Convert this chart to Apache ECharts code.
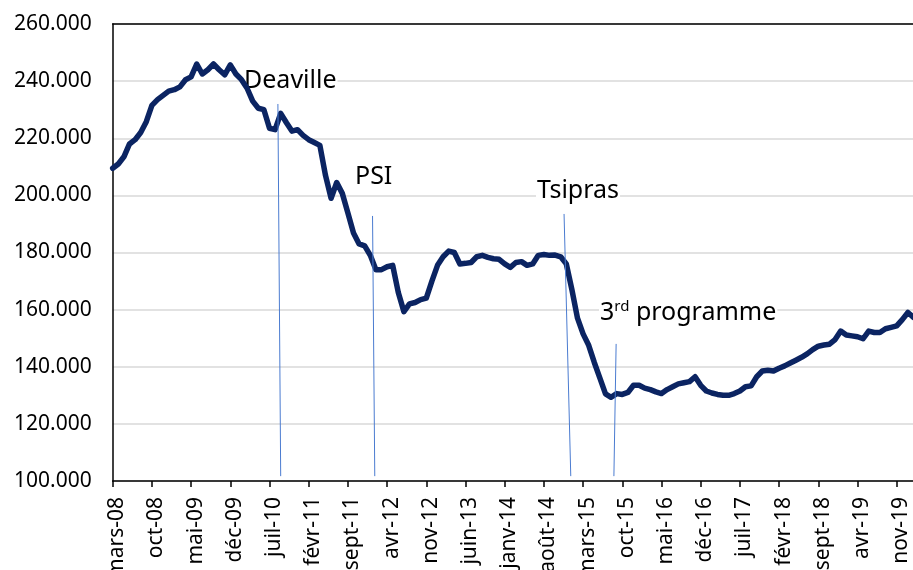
<!DOCTYPE html>
<html>
<head>
<meta charset="utf-8">
<title>Chart</title>
<script src="https://cdn.jsdelivr.net/npm/echarts@6/dist/echarts.min.js"></script>
<style>
  html, body { margin: 0; padding: 0; background: #fff; }
  #main { width: 913px; height: 570px; }
</style>
</head>
<body>
<div id="main"></div>
<script>
  // mois, de mars-08 à févr-20
  var monthNames = ['janv', 'févr', 'mars', 'avr', 'mai', 'juin', 'juil', 'août', 'sept', 'oct', 'nov', 'déc']
  var startYear = 2008
  var startMonth = 2
  var nbMonths = 144

  var categories = []
  for (var k = 0; k < nbMonths; k++) {
    var m = (startMonth + k) % 12
    var y = startYear + Math.floor((startMonth + k) / 12)
    categories.push(monthNames[m] + '-' + String(y).slice(2))
  }

  var values = [
    209.5, 211.0, 213.5, 218.0, 219.5, 222.0, 225.8, 231.5, 233.5, 235.0, 236.5, 237.0,
    238.0, 240.5, 241.5, 246.0, 242.5, 244.0, 246.0, 244.0, 242.2, 245.7, 242.5, 240.5,
    237.5, 233.0, 230.5, 230.0, 223.5, 223.0, 228.7, 225.5, 222.5, 223.0, 221.0, 219.5,
    218.5, 217.5, 207.0, 199.0, 204.5, 200.7, 193.8, 186.8, 183.0, 182.3, 179.0, 174.0,
    174.0, 175.0, 175.5, 166.0, 159.3, 162.0, 162.5, 163.5, 164.0, 170.0, 175.5, 178.5,
    180.5, 180.0, 176.0, 176.2, 176.5, 178.5, 179.0, 178.3, 177.8, 177.6, 176.0, 174.8,
    176.5, 176.8, 175.5, 176.0, 179.0, 179.3, 179.0, 179.1, 178.5, 176.0, 167.0, 157.0,
    151.5, 147.5, 141.5, 136.0, 130.5, 129.3, 130.6, 130.3, 131.0, 133.5, 133.5, 132.5,
    132.0, 131.2, 130.6, 132.0, 133.0, 134.0, 134.4, 134.8, 136.5, 133.5, 131.5, 130.8,
    130.3, 130.0, 130.0, 130.6, 131.5, 133.0, 133.3, 136.5, 138.5, 138.8, 138.5, 139.5,
    140.3, 141.3, 142.3, 143.3, 144.5, 146.0, 147.2, 147.6, 147.9, 149.5, 152.5, 151.1,
    150.8, 150.5, 149.8, 152.5, 152.0, 152.0, 153.3, 153.8, 154.3, 156.5, 159.0, 157.3
  ]

  // traits d'annotation : [haut, bas] en index de mois et en valeur
  var annoNames = ['Deaville', 'PSI', 'Tsipras', '3rd programme']
  var annoX = [[29.5, 30.0], [46.4, 46.8], [80.6, 81.8], [89.9, 89.5]]
  var annoY = [[232.0, 101.7], [192.8, 101.7], [193.5, 101.7], [148.0, 101.7]]

  var chart = echarts.init(document.getElementById('main'))

  var series = [{
    name: 'indice',
    type: 'line',
    data: values,
    showSymbol: false,
    symbol: 'none',
    lineStyle: { color: '#0b2462', width: 5.5, join: 'round', cap: 'round' },
    z: 3
  }]
  annoNames.forEach(function (n, i) {
    series.push({
      name: n,
      type: 'line',
      xAxisIndex: 1,
      symbol: 'none',
      data: [[annoX[i][0], annoY[i][0]], [annoX[i][1], annoY[i][1]]],
      lineStyle: { color: '#4a7bd0', width: 1 },
      z: 4
    })
  })

  var txtStyle = function (t) {
    return { text: t, fill: '#000', font: '25px "Noto Sans"', backgroundColor: '#fff', padding: [0, 1, 0, 1] }
  }

  chart.setOption({
    animation: false,
    grid: { left: 112.7, top: 24, width: 800.8, height: 457, outerBoundsMode: 'none', containLabel: false },
    xAxis: [{
      type: 'category',
      data: categories,
      boundaryGap: false,
      axisLine: { lineStyle: { color: '#000', width: 1.5 } },
      axisTick: { show: true, interval: 6, length: 6, lineStyle: { color: '#000', width: 1.5 } },
      axisLabel: {
        interval: 6,
        rotate: 90,
        margin: 16,
        color: '#000',
        fontFamily: 'Noto Sans',
        fontSize: 21,
        verticalAlign: 'top',
        lineHeight: 9
      },
      splitLine: { show: false }
    }, {
      type: 'value',
      position: 'top',
      min: 0,
      max: nbMonths - 1,
      axisLine: { show: true, onZero: false, lineStyle: { color: '#000', width: 1.5 } },
      axisTick: { show: false },
      axisLabel: { show: false },
      splitLine: { show: false }
    }],
    yAxis: {
      type: 'value',
      min: 100,
      max: 260,
      interval: 20,
      axisLine: { show: true, lineStyle: { color: '#000', width: 1.5 } },
      axisTick: { show: false },
      axisLabel: {
        margin: 21,
        color: '#000',
        fontFamily: 'Noto Sans',
        fontSize: 21,
        formatter: function (v) { return v.toFixed(3) }
      },
      splitLine: { show: true, lineStyle: { color: '#d9d9d9', width: 1.5 } }
    },
    series: series,
    graphic: [
      { type: 'text', z: 1, left: 243, top: 68, style: txtStyle('Deaville') },
      { type: 'text', z: 1, left: 354, top: 164, style: txtStyle('PSI') },
      { type: 'text', z: 1, left: 536, top: 178, style: txtStyle('Tsipras') },
      {
        type: 'text', z: 1, left: 599, top: 297,
        style: {
          text: '{a|3}{s|rd}{a| programme}',
          fill: '#000',
          backgroundColor: '#fff',
          padding: [0, 1, 0, 1],
          rich: {
            a: { fontFamily: 'Noto Sans', fontSize: 25, lineHeight: 32, fill: '#000' },
            s: { fontFamily: 'Noto Sans', fontSize: 15, lineHeight: 32, verticalAlign: 'top', padding: [2, 0, 0, 0], fill: '#000' }
          }
        }
      }
    ]
  })
</script>
</body>
</html>
